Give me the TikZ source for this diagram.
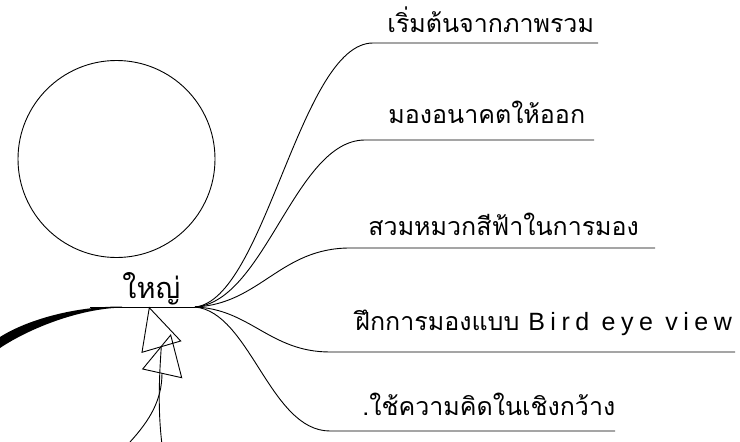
\documentclass[tikz,border=0pt]{standalone}
\usepackage{fontspec}
\newfontfamily\thaifont[Script=Thai]{Loma}
\newfontfamily\spacedlatin[LetterSpace=22]{Liberation Sans}
\begin{document}
\begin{tikzpicture}[x=1pt,y=-1pt, line width=0.9pt,
  lbl/.style={font=\thaifont\fontsize{25}{29}\selectfont, anchor=base west, inner sep=0pt},
  mainlbl/.style={font=\thaifont\fontsize{29}{33}\selectfont, anchor=base west, inner sep=0pt},
  tri/.style={line width=0.9pt, line join=miter}]
\useasboundingbox (0,0) rectangle (740,442);
% circle
\node[circle, draw, line width=0.9pt, minimum size=197pt, inner sep=0pt] (ring) at (116.5,159) {};
% central topic
\coordinate (O) at (195,307);
\coordinate (L) at (90,307);
\node[mainlbl] (main) at (122,298) {ใหญ่};
\draw (L) -- (O);
\fill (122,306.6) .. controls (80,306) and (30,318) .. (0,337) -- (0,348) .. controls (30,328) and (80,308.5) .. (122,307.6) -- cycle;
% labels
\node[lbl] (t1) at (387,32) {เริ่มต้นจากภาพรวม};
\node[lbl] (t2) at (388,123) {มองอนาคตให้ออก};
\node[lbl] (t3) at (368,235) {สวมหมวกสีฟ้าในการมอง};
\node[lbl] (t4) at (355,330) {ฝึกการมองแบบ};
\node[lbl, font=\spacedlatin\fontsize{25}{29}\selectfont, xshift=8pt] (t4b) at (t4.base east) {Bird eye view};
\node[lbl] (t5) at (362,415) {.ใช้ความคิดในเชิงกว้าง};
% branch end points
\coordinate (a1) at (373,43);  \coordinate (z1) at (598,43);
\coordinate (a2) at (365,140); \coordinate (z2) at (594,140);
\coordinate (a3) at (350,248); \coordinate (z3) at (655,248);
\coordinate (a4) at (330,352); \coordinate (z4) at (735,352);
\coordinate (a5) at (330,431); \coordinate (z5) at (615,431);
\draw (O) .. controls (265,300) and (300,43) .. (a1) -- (z1);
\draw (O) .. controls (265,302) and (295,140) .. (a2) -- (z2);
\draw (O) .. controls (260,304) and (280,248) .. (a3) -- (z3);
\draw (O) .. controls (250,309) and (270,352) .. (a4) -- (z4);
\draw (O) .. controls (250,312) and (270,431) .. (a5) -- (z5);
% relationship arrows
\coordinate (s1) at (161.7,442); \coordinate (h1) at (161.3,346.7);
\coordinate (s2) at (130,442);   \coordinate (h2) at (162,373);
\draw (s1) .. controls (158,410) and (159,380) .. (h1);
\draw (s2) .. controls (150,420) and (162,400) .. (h2);
\draw[tri] (149.3,307.7) -- (142,352.3) -- (180.7,341) -- cycle;
\draw[tri] (170.7,335) -- (142.7,369) -- (181.7,377.7) -- cycle;
\end{tikzpicture}
\end{document}
